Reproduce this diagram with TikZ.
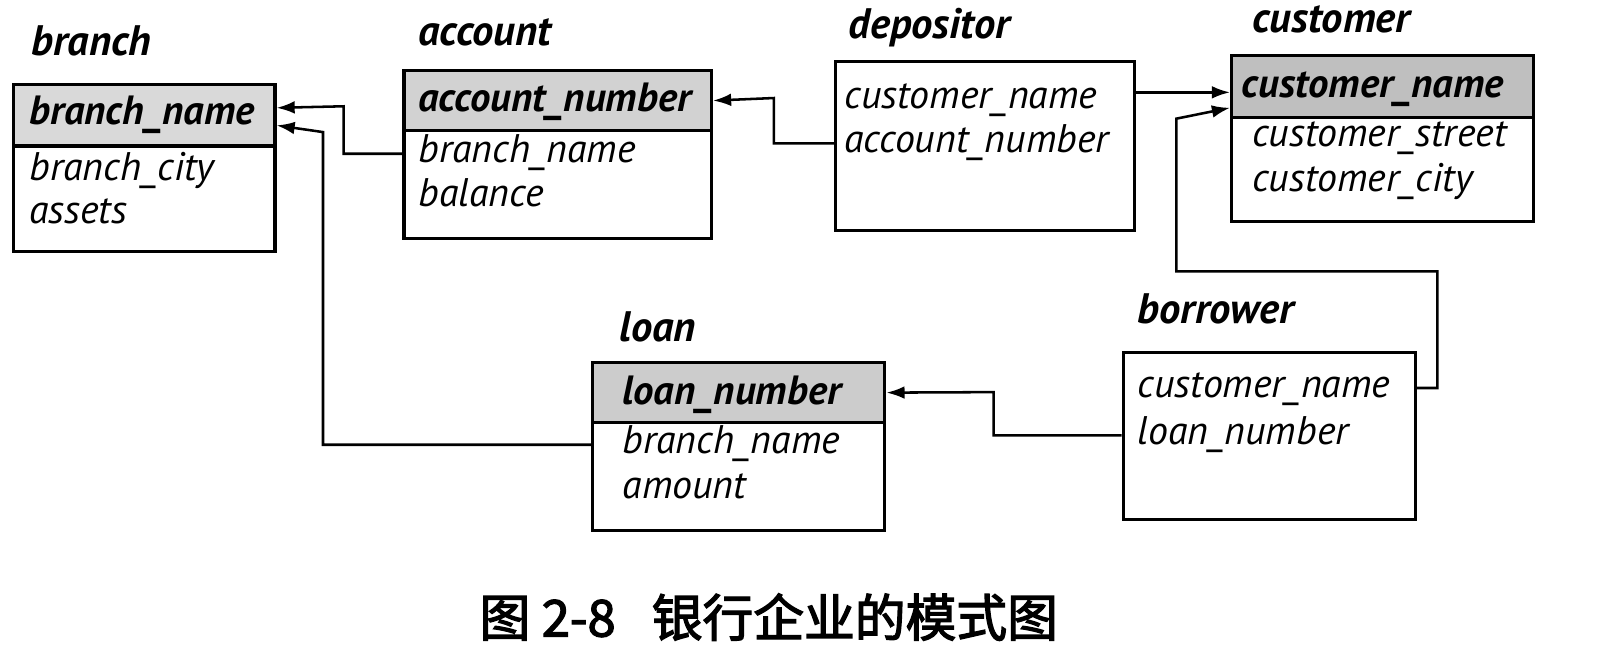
\documentclass[tikz,border=0pt]{standalone}
\usepackage{fontspec}
\setmainfont{PT Sans}
\newfontfamily\cjk[FakeBold=2.5]{Noto Sans CJK SC}
\usetikzlibrary{arrows.meta,positioning}
\newcommand{\px}{0.02cm}

\begin{document}
\begin{tikzpicture}
    [x=0.02cm, y=-0.02cm,
    fk/.style={line width=1.4pt, -{Latex[length=10pt, width=7pt]}},
    table/.style={draw, line width=1.7pt, anchor=north west, inner sep=0pt},
    keyrow/.style={draw, line width=1.7pt, fill=gray!35, anchor=north west, inner sep=0pt},
    tname/.style={anchor=west, inner sep=0pt, text height=14pt, text depth=4pt,
        font=\fontsize{23.5}{26}\selectfont\bfseries\itshape},
    attr/.style={anchor=west, inner sep=0pt, text height=14pt, text depth=4pt,
        font=\fontsize{22}{26}\selectfont\itshape},
    keyattr/.style={attr, font=\fontsize{22.5}{26}\selectfont\bfseries\itshape}]
        \useasboundingbox (0,0) rectangle (1568,635);

        % branch
        \node[table, minimum width=253*\px, minimum height=162*\px] (br) at (12,80) {};
        \node[keyrow, fill=gray!30, minimum width=253*\px, minimum height=60*\px] (brK) at (12,80) {};
        \node[tname] (brN) at (30,45) {branch};
        \node[keyattr] (brKey) at (28,112) {branch\_name};
        \node[attr] (brA1) at (28,166) {branch\_city};
        \node[attr] (brA2) at (28,208) {assets};

        % account
        \node[table, minimum width=298*\px, minimum height=163*\px] (acc) at (390,67) {};
        \node[keyrow, minimum width=298*\px, minimum height=58*\px] (accK) at (390,67) {};
        \node[tname] (accN) at (405,35) {account};
        \node[keyattr] (accKey) at (405,99) {account\_number};
        \node[attr] (accA1) at (405,149) {branch\_name};
        \node[attr] (accA2) at (405,191) {balance};

        % depositor
        \node[table, minimum width=290*\px, minimum height=164*\px] (dep) at (808,58) {};
        \node[tname] (depN) at (822,29) {depositor};
        \node[attr] (depA1) at (818,96) {customer\_name};
        \node[attr] (depA2) at (818,139) {account\_number};

        % customer
        \node[table, minimum width=293*\px, minimum height=161*\px] (cus) at (1192,52) {};
        \node[keyrow, fill=gray!50, minimum width=293*\px, minimum height=60*\px] (cusK) at (1192,52) {};
        \node[tname] (cusN) at (1213,23) {customer};
        \node[keyattr] (cusKey) at (1203,86) {customer\_name};
        \node[attr] (cusA1) at (1213,133) {customer\_street};
        \node[attr] (cusA2) at (1213,177) {customer\_city};

        % loan
        \node[table, minimum width=283*\px, minimum height=163*\px] (ln) at (573,350) {};
        \node[keyrow, fill=gray!40, minimum width=283*\px, minimum height=58*\px] (lnK) at (573,350) {};
        \node[tname] (lnN) at (600,322) {loan};
        \node[keyattr] (lnKey) at (603,383) {loan\_number};
        \node[attr] (lnA1) at (603,431) {branch\_name};
        \node[attr] (lnA2) at (603,474) {amount};

        % borrower
        \node[table, minimum width=283*\px, minimum height=162*\px] (bor) at (1087,340) {};
        \node[tname] (borN) at (1102,305) {borrower};
        \node[attr] (borA1) at (1102,376) {customer\_name};
        \node[attr] (borA2) at (1102,422) {loan\_number};

        \coordinate (cusIn1) at ([yshift=-0.12cm]cusK.west);
        \coordinate (cusIn2) at ([yshift=-0.42cm]cusK.west);

        \draw[fk] (acc.west |- accA1) -| (333,103) -- ([yshift=0.14cm]brK.east);
        \draw[fk] (ln.west |- lnA1) -| (313,128) -- ([yshift=-0.2cm]brK.east);
        \draw[fk] (dep.west |- depA2) -| (750,95) -- (accK.east);
        \draw[fk] (dep.east |- cusIn1) -- (cusIn1);
        \draw[fk] (bor.east |- borA1) -| (1393,263) -| (1140,115) -- (cusIn2);
        \draw[fk] (bor.west |- borA2) -| (963,380) -- (lnK.east);

        \node[font=\cjk\fontsize{28}{32}\selectfont] (cap) at (745,598)
            {图 2-8\hspace{0.7cm}银行企业的模式图};
   \end{tikzpicture}
\end{document}
